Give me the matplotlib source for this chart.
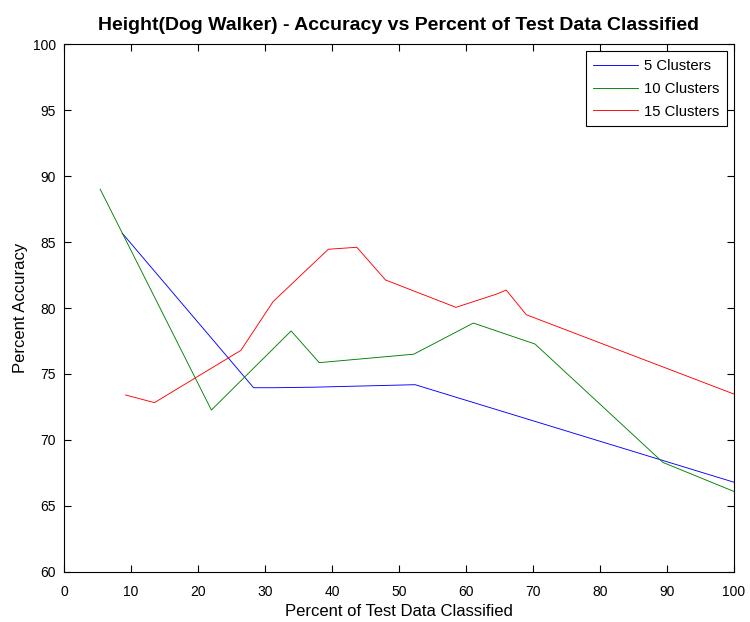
import matplotlib
matplotlib.use("Agg")
import matplotlib.pyplot as plt

plt.rcParams['font.family'] = ['Liberation Sans', 'DejaVu Sans']

# ---- accuracy curves (percent classified, percent accuracy) ----
x5 = [8.7, 28.3, 31.2, 37.2, 52.4, 100.0]
y5 = [85.66, 73.96, 73.96, 74.0, 74.19, 66.8]

x10 = [5.4, 22.0, 33.9, 38.1, 52.2, 61.1, 70.3, 89.4, 100.0]
y10 = [89.0, 72.27, 78.26, 75.86, 76.5, 78.86, 77.27, 68.3, 66.1]

x15 = [9.2, 13.5, 26.4, 31.2, 39.45, 43.7, 48.0, 58.5, 64.6, 66.0, 69.0, 100.0]
y15 = [73.41, 72.83, 76.79, 80.48, 84.45, 84.6, 82.12, 80.05, 81.06, 81.36, 79.49, 73.48]

labels = ["5 Clusters", "10 Clusters", "15 Clusters"]
colors = ["#0000ff", "#008000", "#ff0000"]

fig = plt.figure(figsize=(7.5, 6.22), dpi=100)
ax = fig.add_axes([64 / 750, 1 - 572 / 622, 670 / 750, 528 / 622])

for xs, ys, lab, c in zip([x5, x10, x15], [y5, y10, y15], labels, colors):
    ax.plot(xs, ys, color=c, lw=0.65, label=lab)

ax.set_xlim(0, 100)
ax.set_ylim(60, 100)
ax.set_xticks(range(0, 101, 10))
ax.set_yticks(range(60, 101, 5))
ax.tick_params(direction='in', top=True, right=True, labelsize=10, length=5)
ax.tick_params(axis='x', pad=9)
ax.tick_params(axis='y', pad=6)
for s in ax.spines.values():
    s.set_linewidth(0.8)

ax.set_xlabel("Percent of Test Data Classified", fontsize=12, labelpad=4)
ax.set_ylabel("Percent Accuracy", fontsize=12, labelpad=3)
ax.set_title("Height(Dog Walker) - Accuracy vs Percent of Test Data Classified",
             fontsize=14, fontweight='bold', pad=10)

leg = ax.legend(loc='upper right', fontsize=10.7, fancybox=False, framealpha=1,
                edgecolor='black', borderaxespad=0.5, borderpad=0.5,
                handlelength=3.0, handletextpad=0.4, labelspacing=0.6)
leg.get_frame().set_linewidth(0.8)

fig.savefig("out.png", dpi=100)
